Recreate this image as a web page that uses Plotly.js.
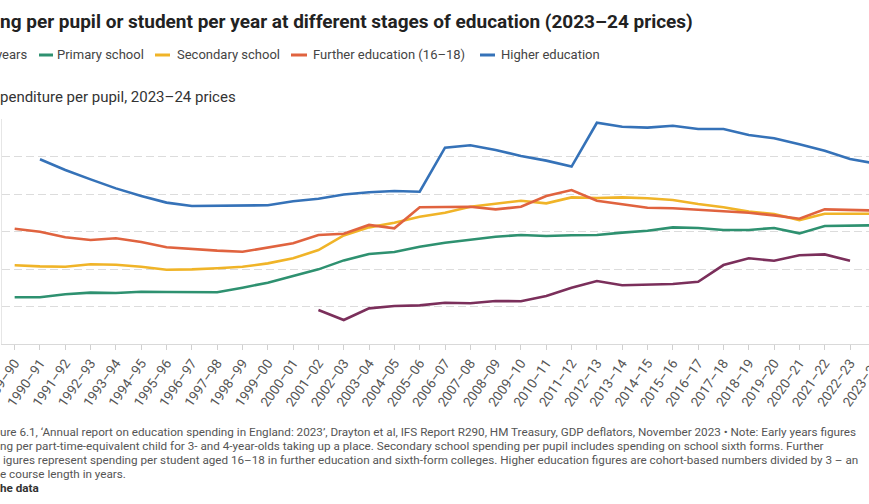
<!DOCTYPE html>
<html>
<head>
<meta charset="utf-8">
<script src="https://cdn.plot.ly/plotly-3.0.1.min.js"></script>
<style>
html,body{margin:0;padding:0;overflow:hidden;background:#fff;}
#chart{width:900px;height:504px;}
</style>
</head>
<body>
<div id="chart"></div>
<script>
// ---- data ----
const years = ["1989–90","1990–91","1991–92","1992–93","1993–94","1994–95","1995–96","1996–97","1997–98","1998–99","1999–00","2000–01","2001–02","2002–03","2003–04","2004–05","2005–06","2006–07","2007–08","2008–09","2009–10","2010–11","2011–12","2012–13","2013–14","2014–15","2015–16","2016–17","2017–18","2018–19","2019–20","2020–21","2021–22","2022–23","2023–24"];
const earlyYears = [null,null,null,null,null,null,null,null,null,null,null,null,1810,1280,1900,2030,2060,2200,2170,2290,2280,2560,3000,3360,3130,3160,3200,3320,4210,4570,4440,4730,4780,4440,null];
const primary = [2490,2490,2650,2740,2720,2790,2770,2760,2760,3000,3270,3630,3980,4460,4800,4910,5190,5400,5580,5720,5810,5760,5800,5810,5940,6040,6220,6190,6080,6080,6190,5900,6290,6290,6330];
const secondary = [4200,4140,4120,4250,4230,4120,3960,3980,4040,4120,4300,4570,5010,5790,6220,6470,6790,7000,7320,7500,7640,7500,7820,7790,7820,7770,7680,7470,7290,7060,6930,6610,6950,6950,6950];
const further = [6150,5990,5690,5550,5640,5440,5160,5050,4980,4920,5160,5370,5810,5880,6350,6170,7290,7290,7320,7180,7320,7890,8210,7640,7450,7270,7240,7150,7060,7000,6860,6680,7180,7160,7120];
const higher = [null,9850,9280,8780,8300,7890,7540,7360,7360,7380,7400,7610,7750,7970,8090,8160,8120,10470,10600,10350,10030,9780,9460,11800,11590,11540,11640,11470,11470,11150,10970,10650,10310,9870,9630];
const seriesNames = ["Early years","Primary school","Secondary school","Further education (16–18)","Higher education"];
const seriesColors = ["#7b2f5b","#2e9170","#f0b428","#e0633f","#3572b8"];
const seriesData = [earlyYears, primary, secondary, further, higher];

// ---- geometry ----
const W = 900, H = 504, ML = 2, MR = 12, MT = 119, MB = 160;
const plotW = W - ML - MR, plotH = H - MT - MB;
const px = x => (x - ML) / plotW;
const py = y => (H - MB - y) / plotH;

const traces = seriesData.map((d, i) => ({
  type: 'scatter', mode: 'lines', x: years, y: d, name: seriesNames[i],
  line: {color: seriesColors[i], width: 2.6}, connectgaps: false, showlegend: false
}));

const font = 'Roboto, "Open Sans", sans-serif';
const ann = [];
function txt(text, x, y, size, color, weight) {
  ann.push({text: text, xref: 'paper', yref: 'paper', x: px(x), y: py(y),
    xanchor: 'left', yanchor: 'middle', showarrow: false, borderpad: 0,
    font: {family: font, size: size, color: color, weight: weight || 400}});
}
// title (cropped at left edge in reference)
txt("ng per pupil or student per year at different stages of education (2023–24 prices)", -1, 21, 19, '#222', 700);
// legend
const legendItems = [
  {label: "years", tx: -5, m0: null, m1: null, c: 0},
  {label: "Primary school", tx: 56, m0: 39, m1: 53, c: 1},
  {label: "Secondary school", tx: 175.5, m0: 155, m1: 170, c: 2},
  {label: "Further education (16–18)", tx: 311.5, m0: 291, m1: 307, c: 3},
  {label: "Higher education", tx: 500, m0: 480, m1: 495, c: 4}
];
const shapes = [];
legendItems.forEach(it => {
  txt(it.label, it.tx, 55, 13, '#444');
  if (it.m0 !== null) {
    shapes.push({type: 'line', xref: 'paper', yref: 'paper', x0: px(it.m0), x1: px(it.m1),
      y0: py(55), y1: py(55), line: {color: seriesColors[it.c], width: 3}});
  }
});
// y-axis title
txt("penditure per pupil, 2023–24 prices", -1, 97, 15, '#333');
// footer
const footer = [
  "ure 6.1, ‘Annual report on education spending in England: 2023’, Drayton et al, IFS Report R290, HM Treasury, GDP deflators, November 2023 • Note: Early years figures",
  "ng per part-time-equivalent child for 3- and 4-year-olds taking up a place. Secondary school spending per pupil includes spending on school sixth forms. Further",
  "igures represent spending per student aged 16–18 in further education and sixth-form colleges. Higher education figures are cohort-based numbers divided by 3 – an",
  "e course length in years."
];
const footerY = [432, 446, 460, 474];
footer.forEach((t, i) => txt(t, i === 2 ? 2 : -1, footerY[i], 11.7, '#555'));
txt("he data", -1, 488, 11.7, '#333', 700);

const layout = {
  width: W, height: H,
  margin: {l: ML, r: MR, t: MT, b: MB, pad: 0},
  paper_bgcolor: '#fff', plot_bgcolor: '#fff',
  showlegend: false,
  xaxis: {type: 'category', range: [-0.5, 34.5], tickangle: -55,
    ticks: 'outside', ticklen: 5, tickcolor: '#d0d0d0', tickwidth: 1,
    showline: true, linecolor: '#d9d9d9', linewidth: 1, showgrid: false,
    tickfont: {family: font, size: 13.5, color: '#555'}, automargin: false},
  yaxis: {range: [0, 12000], dtick: 2000, showgrid: true, gridcolor: '#dcdcdc',
    griddash: '8px,4px', gridwidth: 1, zeroline: false, showline: true,
    linecolor: '#e6e6e6', showticklabels: false, ticks: '', automargin: false},
  annotations: ann, shapes: shapes
};
Plotly.newPlot('chart', traces, layout, {staticPlot: true, displayModeBar: false});
</script>
</body>
</html>
